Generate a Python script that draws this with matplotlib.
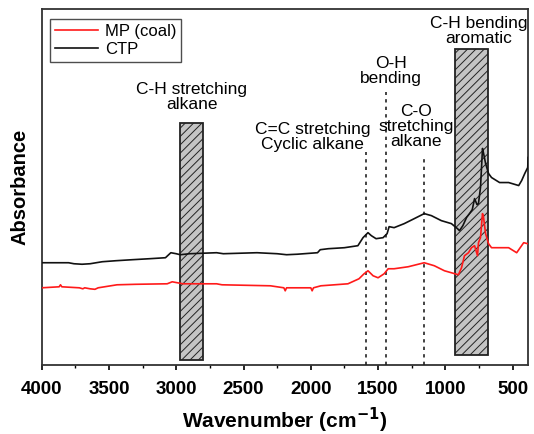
import matplotlib.pyplot as plt
from matplotlib.patches import Rectangle
import numpy as np

plt.rcParams["font.family"] = ["Liberation Sans", "DejaVu Sans"]
plt.rcParams["hatch.linewidth"] = 0.7

# CTP spectrum (wavenumber, absorbance in arbitrary units)
ctp_wn = [4000, 3800, 3760, 3700, 3640, 3550, 3450, 3330, 3200, 3080, 3040, 3000,
          2970, 2900, 2700, 2650, 2400, 2250, 2180, 2100, 2050, 1950, 1930, 1870,
          1750, 1650, 1612, 1575, 1550, 1515, 1463, 1433, 1418, 1381, 1306, 1231,
          1157, 1104, 1030, 955, 910, 895, 870, 843, 821, 800, 783, 765, 754, 739,
          724, 716, 701, 679, 657, 597, 530, 455, 433, 410, 388, 385]
ctp_abs = [102, 102, 101, 100.5, 101, 103, 104, 105, 106, 107, 112, 111,
           110, 111, 112, 111, 112, 111, 110, 110.5, 111, 112, 115, 116,
           117, 119, 127, 132, 129, 126, 127, 131, 138, 137, 141, 146,
           151, 149, 144, 141, 136, 134, 139, 147, 151, 155, 166, 160, 161, 177,
           216, 211, 201, 191, 187, 182, 182, 179, 184, 191, 197, 207]

# MP (coal) spectrum
mp_wn = [4000, 3870, 3860, 3850, 3720, 3694, 3680, 3640, 3604, 3580, 3440, 3300,
         3067, 3030, 2990, 2950, 2700, 2660, 2300, 2200, 2190, 2180, 2000, 1990,
         1980, 1925, 1724, 1642, 1604, 1575, 1537, 1500, 1455, 1425, 1381, 1276,
         1157, 1082, 1007, 955, 903, 880, 858, 828, 806, 783, 761, 754, 739, 724,
         716, 701, 679, 657, 530, 470, 418, 388]
mp_abs = [77, 78, 80, 78, 77, 76, 77, 76, 75.5, 77, 80, 80.5,
          81, 83, 82, 81, 81, 80, 79, 77, 74, 77, 77, 74,
          77, 79, 81, 86, 91, 94, 89, 87, 91, 96, 96, 98,
          102, 99, 94, 92, 90, 97, 109, 112, 117, 119, 109, 122, 127, 151,
          147, 131, 121, 117, 117, 112, 122, 121]

# shaded bands: (high wavenumber, low wavenumber, bottom, top)
bands = [(2975, 2800, 5, 241), (931, 682, 10, 315)]

# dashed marker lines: wavenumber and top
peak_wn = [1587, 1441, 1161]
peak_top = [212, 272, 206]

labels = [
    ("C-H stretching\nalkane", 2883, 267),
    ("C=C stretching\nCyclic alkane", 1985, 227),
    ("O-H\nbending", 1403, 293),
    ("C-O\nstretching\nalkane", 1216, 238),
    ("C-H bending\naromatic", 754, 333),
]

fig = plt.figure(figsize=(5.34, 4.34), dpi=100)
ax = fig.add_axes([0.078, 0.159, 0.911, 0.82])

for hi, lo, bottom, top in bands:
    ax.add_patch(Rectangle((lo, bottom), hi - lo, top - bottom, facecolor="#c4c4c4",
                           edgecolor="#222222", hatch="////", linewidth=1.3, zorder=2))

for wn, top in zip(peak_wn, peak_top):
    ax.plot([wn, wn], [0, top], color="#222222", linestyle=(0, (2, 2.5)), linewidth=1.2, zorder=3)

ax.plot(mp_wn, mp_abs, color="#ff1a1a", linewidth=1.2, label="MP (coal)", zorder=4)
ax.plot(ctp_wn, ctp_abs, color="#111111", linewidth=1.2, label="CTP", zorder=4)

for text, x, y in labels:
    ax.text(x, y, text, ha="center", va="center", fontsize=12.5, linespacing=1.0, zorder=5)

ax.set_xlim(4000, 385)
ax.set_ylim(0, 355)
ax.set_yticks([])
ax.set_xticks(np.arange(4000, 499, -500))
ax.set_xticks(np.arange(3750, 499, -500), minor=True)
ax.tick_params(axis="x", which="major", direction="out", length=3.5, width=1.2, pad=8,
               labelsize=13.5)
ax.tick_params(axis="x", which="minor", direction="out", length=2, width=1.0)
for label in ax.get_xticklabels():
    label.set_fontweight("bold")
for spine in ax.spines.values():
    spine.set_linewidth(1.3)
    spine.set_color("#333333")

ax.set_xlabel("Wavenumber (cm$^{\\mathbf{-1}}$)", fontsize=15, fontweight="bold", labelpad=6)
ax.set_ylabel("Absorbance", fontsize=14.5, fontweight="bold", labelpad=9)

leg = ax.legend(loc="upper left", bbox_to_anchor=(0.017, 0.973), borderaxespad=0,
                fontsize=12, handlelength=2.6, frameon=True, fancybox=False,
                borderpad=0.3, labelspacing=0.2, handletextpad=0.4)
leg.get_frame().set_edgecolor("#222222")
leg.get_frame().set_linewidth(1.0)

fig.savefig("out.png", dpi=100)
